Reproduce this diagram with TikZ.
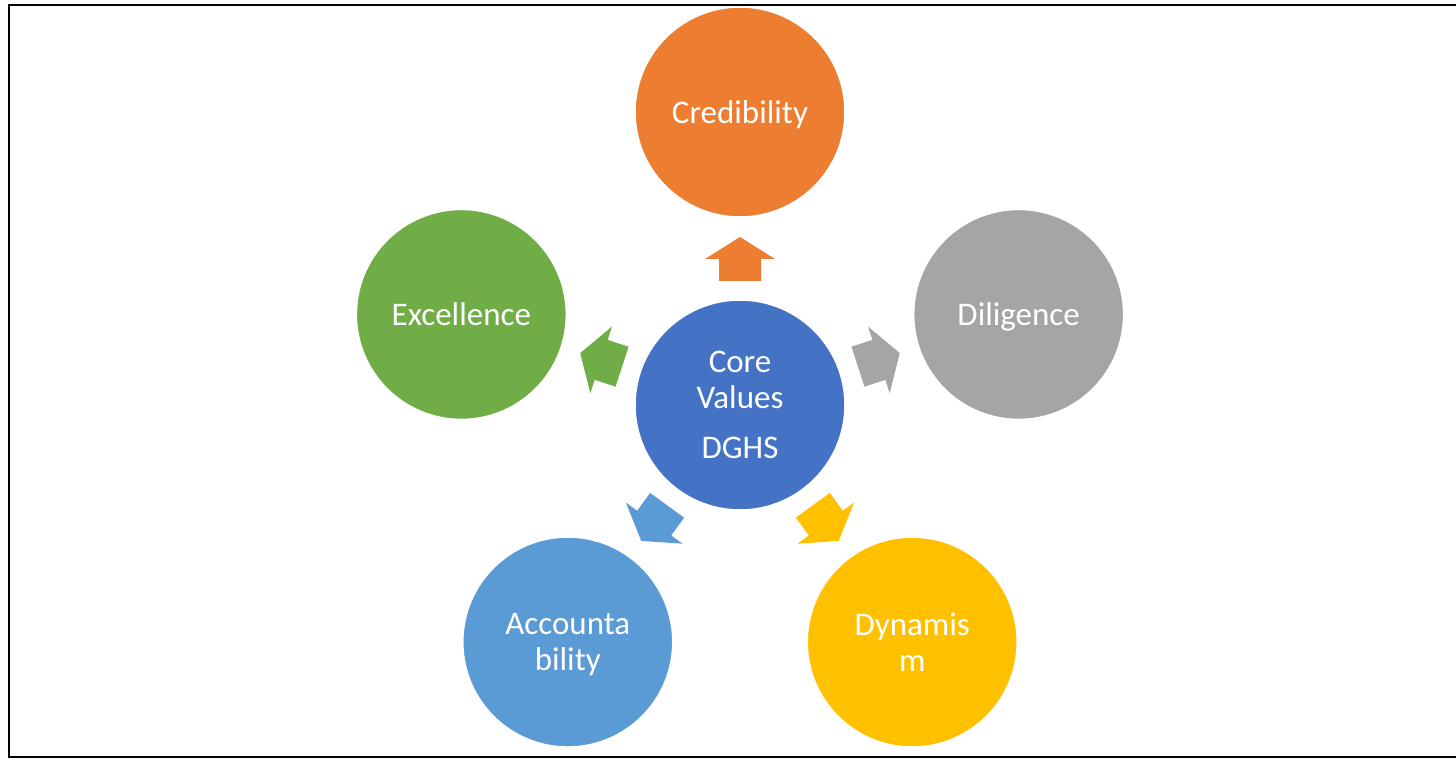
\documentclass[tikz,border=0pt]{standalone}
\usepackage{fontspec}
\setmainfont{Carlito}
\usetikzlibrary{calc}
\definecolor{cOrange}{HTML}{ED7D31}
\definecolor{cBlue}{HTML}{4472C4}
\definecolor{cGray}{HTML}{A5A5A5}
\definecolor{cYellow}{HTML}{FFC000}
\definecolor{cLight}{HTML}{5B9BD5}
\definecolor{cGreen}{HTML}{70AD47}
\tikzset{
  valuecirc/.style={circle, minimum size=210pt, inner sep=0pt, draw=white, line width=1.5pt,
    fill=#1, text=white, align=center, font=\fontsize{33}{36}\selectfont},
  blockarrow/.style={fill=#1, draw=none},
  frameline/.style={line width=2pt, black}
}
\begin{document}
\begin{tikzpicture}[x=1pt, y=1pt]
\useasboundingbox (0,0) rectangle (1456,760);
\fill[white] (0,0) rectangle (1456,760);
% frame
\coordinate (f1) at (1460,755);
\coordinate (f2) at (9,755);
\coordinate (f3) at (9,2.5);
\coordinate (f4) at (1460,2.5);
\draw[frameline] (f1) -- (f2) -- (f3) -- (f4);
% centre
\node[valuecirc=cBlue] (core) at (740,355) {Core\\Values\\[14pt]DGHS};
\node[valuecirc=cOrange, text depth=0pt] (cred) at ($(core)+(90:293)$) {Credibility};
\node[valuecirc=cGreen, text depth=0pt] (exc) at ($(core)+(162:293)$) {Excellence};
\node[valuecirc=cGray, text depth=0pt] (dil) at ($(core)+(18:293)$) {Diligence};
\node[valuecirc=cLight] (acc) at ($(core)+(234:293)$) {Accounta\\\smash{bility}};
\node[valuecirc=cYellow] (dyn) at ($(core)+(306:293)$) {Dynamis\\m};
% arrows
\foreach \ang/\col in {90/cOrange, 162/cGreen, 18/cGray, 234/cLight, 306/cYellow}{
  \begin{scope}[shift={(core.center)}, rotate=\ang]
    \fill[blockarrow=\col] (124,-21) -- (146,-21) -- (146,-35) -- (168,0) -- (146,35) -- (146,21) -- (124,21) -- cycle;
  \end{scope}
}
\end{tikzpicture}
\end{document}
